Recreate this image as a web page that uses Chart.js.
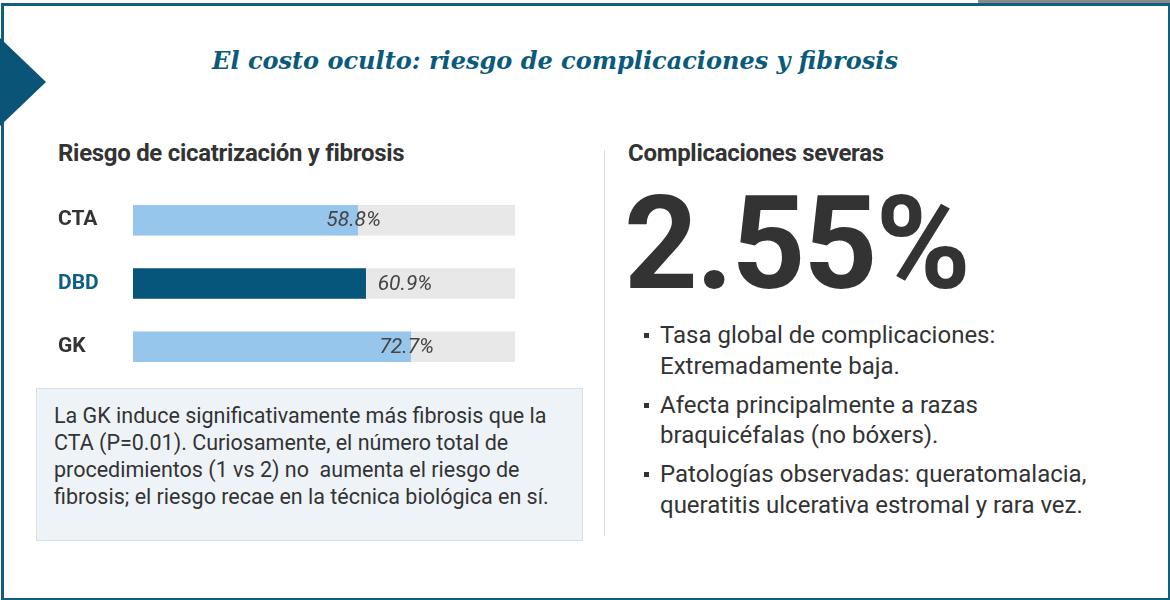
<!DOCTYPE html>
<html>
<head>
<meta charset="utf-8">
<script src="https://cdn.jsdelivr.net/npm/chart.js"></script>
<style>
  body { margin: 0; width: 1170px; height: 600px; background: #fff; font-family: Roboto, sans-serif; color: #333; overflow: hidden; }
  .frame { position: absolute; left: 1px; top: 3px; width: 1164px; height: 592px; border: 3px solid #0f5f80; border-top-width: 3px; }
  .topgray { position: absolute; left: 978px; top: 0; width: 192px; height: 3px; background: #8a8a8a; }
  .tri { position: absolute; left: 0; top: 38px; width: 0; height: 0; border-top: 44px solid transparent; border-bottom: 44px solid transparent; border-left: 46px solid #0a5478; }
  .title { position: absolute; left: 0; width: 1110px; top: 46px; text-align: center; font-family: "DejaVu Serif", serif; font-weight: bold; font-style: italic; font-size: 24px; color: #0a5a7c; }
  .h2 { position: absolute; font-weight: bold; font-size: 24px; color: #333; letter-spacing: -0.3px; }
  .note { position: absolute; left: 36px; top: 388px; width: 516px; height: 128px; background: #eef3f8; border: 1px solid #d6e0ea; padding: 13px 12px 10px 17px; font-size: 21.5px; line-height: 27px; color: #333; box-sizing: content-box; }
  .divider { position: absolute; left: 604px; top: 150px; width: 1px; height: 386px; background: #dddddd; }
  .big { position: absolute; left: 624px; top: 168px; font-weight: bold; font-size: 129px; color: #333; letter-spacing: -2px; }
  ul { position: absolute; left: 640px; top: 320px; margin: 0; padding: 0; list-style: none; font-size: 24px; line-height: 30.5px; }
  li { position: relative; padding-left: 20px; margin-bottom: 8.5px; }
  li::before { content: ""; position: absolute; left: 4px; top: 13px; width: 5px; height: 5px; background: #333; }
</style>
</head>
<body>
<div class="frame"></div>
<div class="topgray"></div>
<div class="tri"></div>
<div class="title">El costo oculto: riesgo de complicaciones y fibrosis</div>

<div class="h2" style="left:58px; top:139px;">Riesgo de cicatrización y fibrosis</div>
<div style="position:absolute; left:58px; top:166px; width:482px; height:235px;">
  <canvas id="chart-1"></canvas>
</div>
<div class="note">La GK induce significativamente más fibrosis que la CTA (P=0.01). Curiosamente, el número total de procedimientos (1 vs 2) no &nbsp;aumenta el riesgo de fibrosis; el riesgo recae en la técnica biológica en sí.</div>

<div class="divider"></div>

<div class="h2" style="left:628px; top:139px;">Complicaciones severas</div>
<div class="big">2.55%</div>
<ul>
  <li>Tasa global de complicaciones:<br>Extremadamente baja.</li>
  <li>Afecta principalmente a razas<br>braquicéfalas (no bóxers).</li>
  <li>Patologías observadas: queratomalacia,<br>queratitis ulcerativa estromal y rara vez.</li>
</ul>

<script>
// Riesgo de fibrosis por técnica
const labels = ["CTA", "DBD", "GK"];
const values = [58.8, 60.9, 72.7];
const barColors = ["#97c6ec", "#06557a", "#97c6ec"];
const labelColors = ["#333333", "#0f5f80", "#333333"];

const valueLabels = {
  id: "valueLabels",
  afterDatasetsDraw(chart) {
    const { ctx } = chart;
    const meta = chart.getDatasetMeta(1);
    ctx.save();
    ctx.font = 'italic 21px Roboto, sans-serif';
    ctx.fillStyle = "#444";
    ctx.textBaseline = "middle";
    meta.data.forEach((bar, i) => {
      const text = values[i] + "%";
      if (i === 1) {
        ctx.textAlign = "left";
        ctx.fillText(text, bar.x + 12, bar.y + 1);
      } else {
        ctx.textAlign = "center";
        ctx.fillText(text, bar.x - 4, bar.y + 1);
      }
    });
    ctx.restore();
  },
};

const ctx1 = document.getElementById("chart-1");
const myChart1 = new Chart(ctx1, {
  type: "bar",
  data: {
    labels: labels,
    datasets: [
      {
        data: [100, 100, 100],
        backgroundColor: "#e8e8e8",
        grouped: false,
        order: 2,
        barThickness: 30,
      },
      {
        data: values,
        backgroundColor: barColors,
        grouped: false,
        order: 1,
        barThickness: 30,
      },
    ],
  },
  options: {
    indexAxis: "y",
    responsive: true,
    maintainAspectRatio: false,
    animation: false,
    layout: { padding: { top: 0, bottom: 0, right: 25, left: 0 } },
    scales: {
      x: { min: 0, max: 100, display: false },
      y: {
        grid: { display: false },
        border: { display: false },
        afterFit: (axis) => { axis.width = 75; },
        ticks: {
          crossAlign: "far",
          padding: 10,
          color: labelColors,
          font: { size: 21, weight: "bold", family: '"Roboto", sans-serif' },
        },
      },
    },
    plugins: { legend: { display: false }, tooltip: { enabled: false } },
  },
  plugins: [valueLabels],
});
</script>
</body>
</html>
